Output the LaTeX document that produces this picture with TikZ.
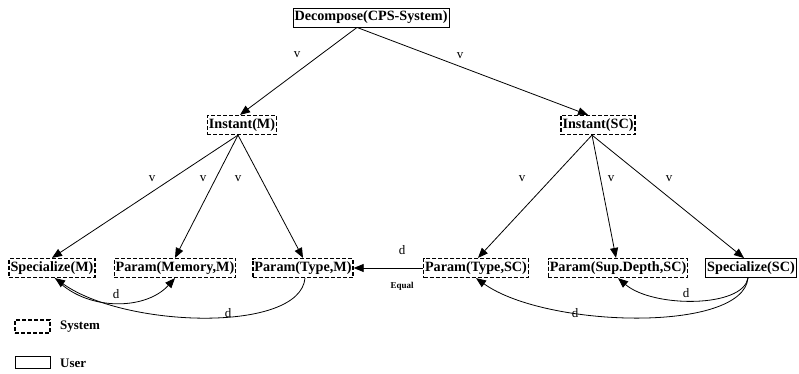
\documentclass[tikz,border=0pt]{standalone}
\usepackage{fontspec}
\setmainfont{Liberation Serif}
\usetikzlibrary{arrows.meta}
\begin{document}
\begin{tikzpicture}[x=1pt,y=-1pt,
  task/.style={draw,line width=0.9pt,inner sep=1.5pt,minimum height=19pt,
    font=\fontsize{14.2}{15}\selectfont\bfseries},
  sysbox/.style={task,dash pattern=on 4pt off 2pt,line width=1.2pt},
  userbox/.style={task},
  conn/.style={line width=0.8pt,-{Triangle[length=10pt,width=8pt]}},
  lbl/.style={font=\fontsize{13}{14}\selectfont,inner sep=0pt},
  small/.style={font=\fontsize{9}{10}\selectfont\bfseries,inner sep=0pt},
  legend/.style={font=\fontsize{13}{14}\selectfont\bfseries,anchor=west,inner sep=0pt}]
\useasboundingbox (0,0) rectangle (799,374);

% task nodes
\node[userbox] (dec) at (371,17.5) {Decompose(CPS-System)};
\node[sysbox] (im) at (242,125) {Instant(M)};
\node[sysbox] (isc) at (598,125) {Instant(SC)};
\node[sysbox] (sm) at (52,268) {Specialize(M)};
\node[sysbox] (pm) at (175,268) {Param(Memory,M)};
\node[sysbox] (tm) at (303,268) {Param(Type,M)};
\node[sysbox] (tsc) at (476,268) {Param(Type,SC)};
\node[sysbox] (sd) at (618,268) {Param(Sup.Depth,SC)};
\node[userbox] (ssc) at (751,268) {Specialize(SC)};

% decomposition edges
\draw[conn] ([xshift=-14pt]dec.south) -- ([xshift=-2pt]im.north);
\draw[conn] ([xshift=-14pt]dec.south) -- ([xshift=-10pt]isc.north);
\node[lbl] (v1) at (297,55) {v};
\node[lbl] (v2) at (460,56) {v};

\draw[conn] ([xshift=-4pt]im.south) -- (sm.north);
\draw[conn] ([xshift=-4pt]im.south) -- (pm.north);
\draw[conn] ([xshift=-4pt]im.south) -- (tm.north);
\node[lbl] (v3) at (152,179) {v};
\node[lbl] (v4) at (203,179) {v};
\node[lbl] (v5) at (238,179) {v};

\draw[conn] ([xshift=-6pt]isc.south) -- ([xshift=2pt]tsc.north);
\draw[conn] ([xshift=-6pt]isc.south) -- ([xshift=-2pt]sd.north);
\draw[conn] ([xshift=-6pt]isc.south) -- ([xshift=-7pt]ssc.north);
\node[lbl] (v6) at (522,179) {v};
\node[lbl] (v7) at (611,179) {v};
\node[lbl] (v8) at (669,179) {v};

% equality between the two type parameters
\draw[conn] (tsc.west) -- (tm.east);
\node[lbl] (d0) at (402,250) {d};
\node[small] (eq) at (402,286) {Equal};

% dependency arcs
\draw[conn] ([xshift=3pt]sm.south) .. controls +(30,33) and +(-30,33) .. (pm.south);
\draw[conn] ([xshift=2pt]tm.south) .. controls +(-5,55) and +(70,50) .. ([xshift=3pt]sm.south);
\node[lbl] (d1) at (116,294) {d};
\node[lbl] (d2) at (228,313) {d};

\draw[conn] ([xshift=-3pt]ssc.south) .. controls +(-5,30) and +(35,30) .. (sd.south);
\draw[conn] ([xshift=-3pt]ssc.south) .. controls +(-5,55) and +(70,50) .. (tsc.south);
\node[lbl] (d3) at (686,293) {d};
\node[lbl] (d4) at (575,313) {d};

% legend
\node[draw,dash pattern=on 4pt off 2pt,line width=1.2pt,minimum width=35pt,minimum height=13pt,inner sep=0pt] (ls) at (32.5,326.5) {};
\node[legend] (lst) at (60,327) {System};
\node[draw,line width=0.9pt,minimum width=35pt,minimum height=12pt,inner sep=0pt] (lu) at (32.5,362) {};
\node[legend] (lut) at (60,363) {User};
\end{tikzpicture}
\end{document}
